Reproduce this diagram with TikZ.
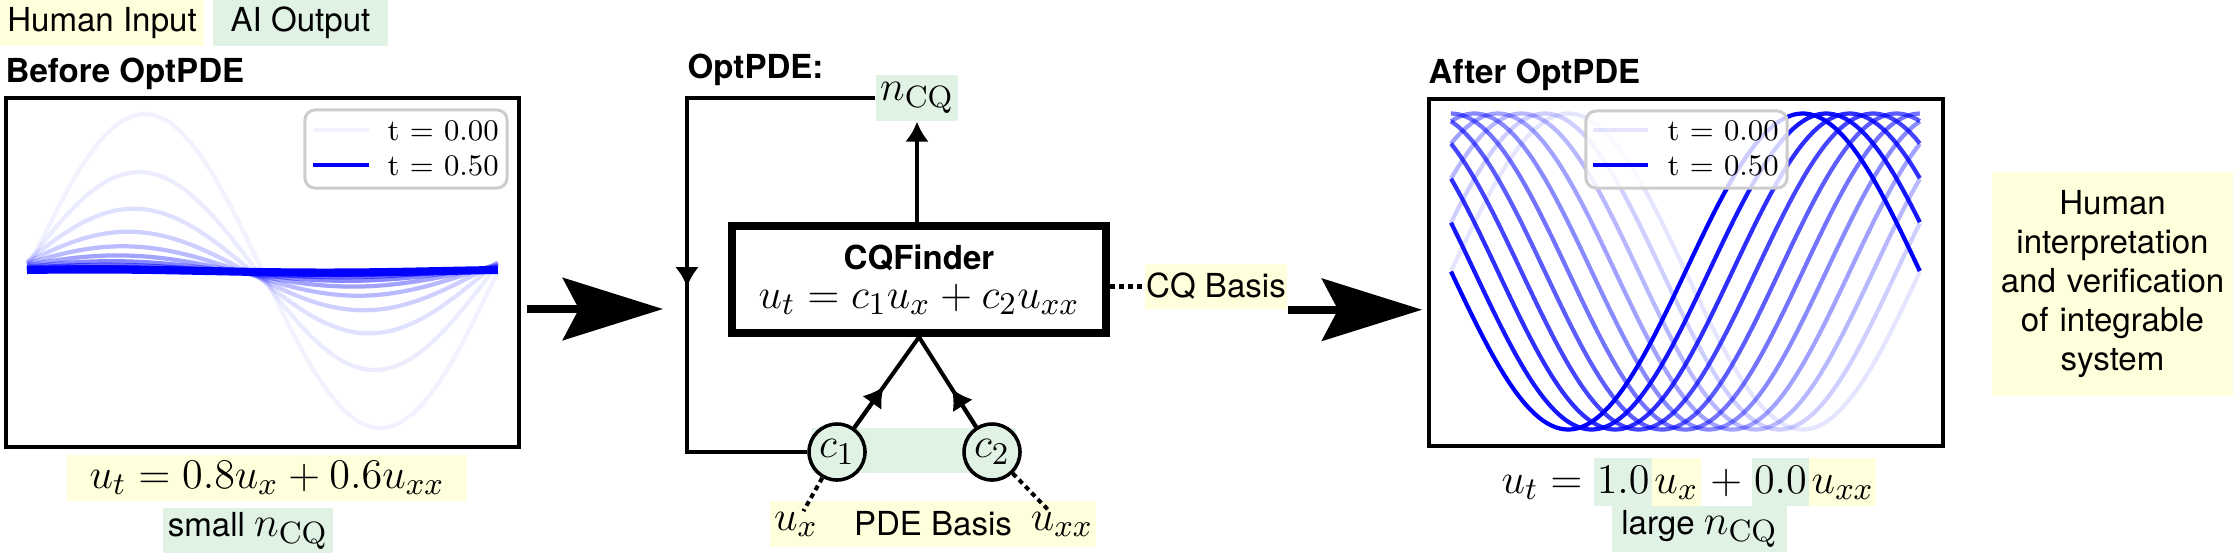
\documentclass[tikz,border=0pt]{standalone}
\usepackage{fontspec}
\setsansfont{TeX Gyre Heros}
\usepackage{tikz}
\usetikzlibrary{arrows.meta,positioning,calc}
\definecolor{humanbg}{HTML}{FFFFDC}
\definecolor{aibg}{HTML}{E0F2E4}
\definecolor{legline}{HTML}{CCCCCC}
\definecolor{plotblue}{HTML}{0000FF}
\newcommand{\labelsf}{\sffamily\fontsize{9.4}{11.1}\selectfont}
\newcommand{\eqfont}{\fontsize{12.5}{11.1}\selectfont}
\newcommand{\keyfont}{\rmfamily\fontsize{8.5}{10}\selectfont}
\newcommand{\hlbox}[2]{{\setlength{\fboxsep}{0.7pt}\colorbox{#1}{\rule[-3pt]{0pt}{12.2pt}$#2$}}}
\tikzset{arr/.style={-{Latex[length=2mm,width=2.4mm]},line width=1.15pt},
  link/.style={line width=1.15pt},
  dotlink/.style={line width=1.15pt,dash pattern=on 0.5mm off 0.4mm},
  bigarr/.style={-{Stealth[length=10mm,width=6.2mm,inset=1.6mm]},line width=2.3pt},
  tag/.style={inner sep=0pt,font=\labelsf,text=black},
  human/.style={tag,fill=humanbg},
  ai/.style={tag,fill=aibg},
  headline/.style={anchor=base west,inner sep=0pt,font=\labelsf\bfseries},
  plotframe/.style={draw,line width=1pt,inner sep=0pt},
  legbox/.style={draw=legline,line width=0.85pt,rounded corners=1mm,fill=white,fill opacity=0.8,inner sep=0pt},
  keytext/.style={anchor=base west,inner sep=0pt,font=\keyfont},
  wave/.style={plotblue,line width=1.2pt},
  coef/.style={circle,draw,line width=1pt,fill=aibg,inner sep=0pt,minimum size=5.6mm,font=\eqfont}}
\begin{document}
\begin{tikzpicture}[x=0.01cm,y=-0.01cm]
\useasboundingbox (0,0) rectangle (2234,554);
% key
\node[human,minimum width=2.04cm,minimum height=4.6mm] (keyhuman) at (102,23) {Human Input};
\node[ai,minimum width=1.75cm,minimum height=4.6mm] (keyai) at (300.5,23) {AI Output};

% before
\node[headline] (beforetitle) at (5,82) {Before OptPDE};
\node[plotframe,minimum width=5.13cm,minimum height=3.49cm] (beforeplot) at (262.5,272.5) {};
\foreach \n in {0,...,10}{
  \pgfmathsetmacro{\amp}{157*0.63^\n}
  \pgfmathsetmacro{\sh}{0.0117*\n}
  \pgfmathsetmacro{\al}{0.05+0.95*(\n/10)^1.6}
  \pgfmathsetmacro{\lw}{\n==10 ? 2.3 : 1.2}
  \draw[wave,line width=\lw pt,draw opacity=\al] plot[domain=0:1,samples=90,smooth] ({27+471*\x},{271-\amp*sin(360*(\x+\sh))});
}
\node[legbox,minimum width=2.02cm,minimum height=7.8mm] (beforekey) at (406,149) {};
\draw[wave,line width=1.4pt,draw opacity=0.05] (313,130) -- (369,130);
\draw[wave,line width=1.4pt] (313,165) -- (369,165);
\node[keytext] (beforekeya) at (387,140) {t = 0.00};
\node[keytext] (beforekeyb) at (387,175) {t = 0.50};
\node[human,font=\eqfont,minimum width=4cm,minimum height=4.6mm] (beforeeq) at (267,478) {$u_t = 0.8u_x + 0.6u_{xx}$};
\node[ai,minimum width=1.7cm,minimum height=4.5mm] (smalltag) at (248,530.5) {small {\eqfont$n_{\mathrm{CQ}}$}};

% OptPDE loop
\node[headline] (opttitle) at (687,78) {OptPDE:};
\node[ai,minimum width=8.2mm,minimum height=4.6mm,font=\eqfont] (ncq) at (917,98) {$n_{\mathrm{CQ}}$};
\node[draw,line width=2.3pt,minimum width=3.74cm,minimum height=1.07cm,align=center,inner sep=0pt,font=\eqfont] (finder) at (919,279.5) {{\labelsf\bfseries CQFinder}\\$u_t = c_1u_x + c_2u_{xx}$};
\draw[arr] (finder.north -| ncq.south) -- (ncq.south);
\node[ai,minimum width=2.04cm,minimum height=4.5mm] (coefband) at (914,450.5) {};
\node[coef] (c1) at (837,452) {$c_1$};
\node[coef] (c2) at (992,452) {$c_2$};
\coordinate (loopcorner) at (687,452);
\coordinate (loopmark) at (687,287);
\draw[link] (ncq.west) -| (loopcorner) -- (c1.west);
\draw[arr] (ncq.west) -| (loopmark);
\draw[link] (c1) -- (finder.south);
\draw[link] (c2) -- (finder.south);
\draw[arr] (c1) -- ($(c1)!0.57!(finder.south)$);
\draw[arr] (c2) -- ($(c2)!0.55!(finder.south)$);
\node[human,minimum width=3.26cm,minimum height=4.6mm] (pdebox) at (933,524) {PDE Basis};
\node[anchor=base,inner sep=0pt,font=\eqfont] (ux) at (796,530) {$u_x$};
\node[anchor=base,inner sep=0pt,font=\eqfont] (uxx) at (1062,530) {$u_{xx}$};
\draw[dotlink] (c1) -- (ux);
\draw[dotlink] (c2) -- (uxx);
\node[human,minimum width=1.42cm,minimum height=4.5mm] (cqbasis) at (1216,286.5) {CQ Basis};
\draw[dotlink] (cqbasis.west -| finder.east) -- (cqbasis.west);

% after
\node[headline] (aftertitle) at (1428,83) {After OptPDE};
\node[plotframe,minimum width=5.14cm,minimum height=3.47cm] (afterplot) at (1686,272.5) {};
\foreach \n in {0,...,10}{
  \pgfmathsetmacro{\sh}{0.05*\n}
  \pgfmathsetmacro{\al}{0.1+0.09*\n}
  \draw[wave,draw opacity=\al] plot[domain=0:1,samples=90,smooth] ({1451+469*\x},{271.5-158*sin(360*(\x+\sh))});
}
\node[legbox,minimum width=2.01cm,minimum height=7.7mm] (afterkey) at (1686.5,149.5) {};
\draw[wave,line width=1.4pt,draw opacity=0.1] (1593,130) -- (1648,130);
\draw[wave,line width=1.4pt] (1593,165) -- (1648,165);
\node[keytext] (afterkeya) at (1667,140) {t = 0.00};
\node[keytext] (afterkeyb) at (1667,175) {t = 0.50};
\node[anchor=base,inner sep=0pt,font=\eqfont] (aftereq) at (1689,493) {$u_t = \hlbox{aibg}{1.0}\hlbox{humanbg}{u_x} + \hlbox{aibg}{0.0}\hlbox{humanbg}{u_{xx}}$};
\node[ai,minimum width=1.75cm,minimum height=4.6mm] (largetag) at (1699.5,529) {large {\eqfont$n_{\mathrm{CQ}}$}};

% arrows between stages
\coordinate (optin) at (663,309);
\draw[bigarr,shorten <=0.6mm] (beforeplot.east |- optin) -- (optin);
\draw[bigarr,shorten >=0.5mm] (cqbasis.south east) -- (cqbasis.south east -| afterplot.west);

\node[human,text width=2.4cm,align=center,minimum width=2.41cm,minimum height=2.24cm] (verify) at (2112.5,284) {Human\\interpretation\\and verification\\of integrable\\system};
\end{tikzpicture}
\end{document}
